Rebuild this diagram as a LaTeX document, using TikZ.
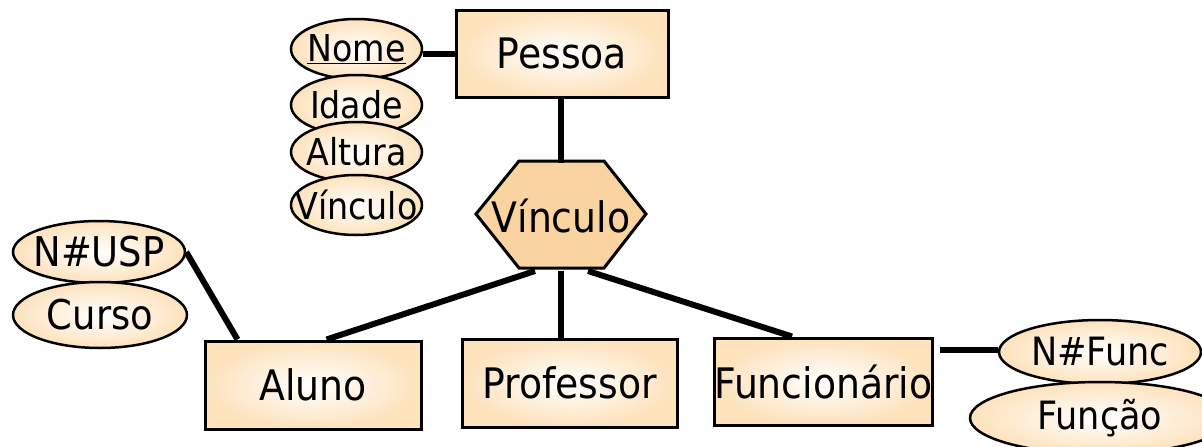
\documentclass[tikz,border=0pt]{standalone}
\usepackage{fontspec}
\setmainfont{DejaVu Sans Condensed}
\usetikzlibrary{shapes.geometric,calc}
\definecolor{peach}{RGB}{253,226,188}
\definecolor{hexfill}{RGB}{250,212,160}
\tikzset{
  ent/.style={rectangle, draw=black, line width=3pt, inner color=white, outer color=peach,
    inner sep=0pt, font=\fontsize{42}{48}\selectfont},
  attr/.style={ellipse, draw=black, line width=2.5pt, inner color=white, outer color=peach,
    inner sep=0pt},
  lbl/.style={inner sep=0pt},
  link/.style={line width=6pt}
}
\newcommand{\zw}[1]{\makebox[0pt]{#1}}
\begin{document}
\begin{tikzpicture}[x=1pt,y=-1pt]
\useasboundingbox (0,0) rectangle (1202,447);
\clip (0,0) rectangle (1202,447);

% entities
\node[ent, minimum width=212pt, minimum height=87pt] (pessoa) at (562,53.5) {Pessoa};
\node[ent, minimum width=216pt, minimum height=88pt] (aluno) at (313,385) {Aluno};
\node[ent, minimum width=215pt, minimum height=88pt] (prof) at (569.5,383) {Professor};
\node[ent, minimum width=215pt, minimum height=87pt] (func) at (823.5,381.5) {Funcionário};

% relationship hexagon
\coordinate (h1) at (519,161);
\coordinate (h2) at (604,161);
\coordinate (h3) at (646,214);
\coordinate (h4) at (604,268);
\coordinate (h5) at (519,268);
\coordinate (h6) at (476,214);
\draw[fill=hexfill, line width=3pt, line join=miter] (h1) -- (h2) -- (h3) -- (h4) -- (h5) -- (h6) -- cycle;
\node[lbl, font=\fontsize{42}{48}\selectfont] (vinc) at (561,216) {Vínculo};
\coordinate (htop) at (561,163);
\coordinate (hbl) at (535,271);
\coordinate (hbm) at (561,271);
\coordinate (hbr) at (588,271);

% attributes of Pessoa
\begin{scope}[every node/.style={attr, minimum width=131pt, minimum height=60pt, font=\fontsize{37}{42}\selectfont}]
\node (nome) at (356.5,49) {\zw{\underline{Nome}}};
\node (idade) at (356.5,105) {\zw{Idade}};
\node (altura) at (356.5,152) {\zw{Altura}};
\node (vatt) at (356.5,205) {\zw{Vínculo}};
\end{scope}

% attributes of Aluno
\node[attr, minimum width=172pt, minimum height=62pt, font=\fontsize{41}{46}\selectfont] (nusp) at (99,252) {\zw{N\#USP}};
\node[attr, minimum width=174pt, minimum height=66pt, font=\fontsize{41}{46}\selectfont] (curso) at (100,315) {\zw{Curso}};

% attributes of Funcionario
\node[attr, minimum width=202pt, minimum height=64pt, font=\fontsize{39}{44}\selectfont] (nfunc) at (1100,352) {\zw{N\#Func}};
\node[attr, minimum width=260pt, minimum height=72pt, font=\fontsize{39}{44}\selectfont] (funcao) at (1100,418) {\zw{Função}};

% connectors
\draw[link] (pessoa.west) -- (pessoa.west -| nome.east);
\draw[link] (pessoa.south -| htop) -- (htop);
\draw[link] (hbl) -- ([xshift=123pt]aluno.north west);
\draw[link] (hbm) -- (hbm |- prof.north);
\draw[link] (hbr) -- ([xshift=79pt]func.north west);
\draw[link] (nusp.east) -- ([xshift=34pt]aluno.north west);
\coordinate (fe) at ([xshift=6pt,yshift=32pt]func.east);
\draw[link] (fe) -- (fe -| nfunc.west);
\end{tikzpicture}
\end{document}
